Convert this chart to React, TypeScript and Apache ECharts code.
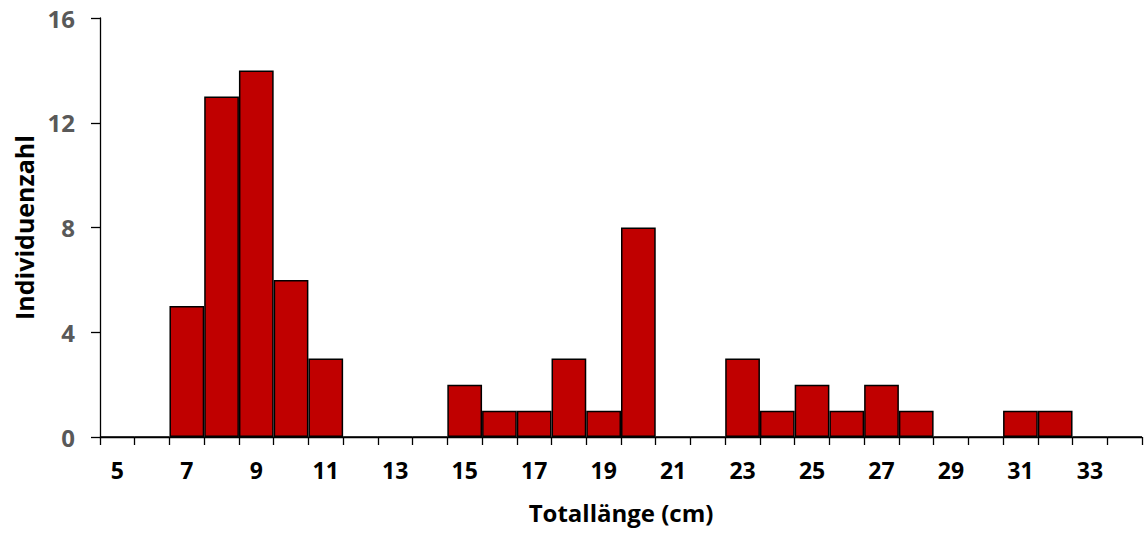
import React, { useEffect, useRef } from "react";
import * as echarts from "echarts";

const categories = ["5","6","7","8","9","10","11","12","13","14","15","16","17","18","19","20","21","22","23","24","25","26","27","28","29","30","31","32","33","34"];
const counts = [0,0,5,13,14,6,3,0,0,0,2,1,1,3,1,8,0,0,3,1,2,1,2,1,0,0,1,1,0,0];
const yTicks = { min: 0, max: 16, interval: 4 };
const xTitle = "Totallänge (cm)";
const yTitle = "Individuenzahl";

export default function App() {
  const ref = useRef<HTMLDivElement>(null);
  useEffect(() => {
    const chart = echarts.init(ref.current!, null, { renderer: "svg" });
    const font = "'Open Sans', sans-serif";
    chart.setOption({
      animation: false,
      grid: { left: 100, right: 4, top: 18, bottom: 98, containLabel: false },
      xAxis: {
        type: "category",
        data: categories,
        name: xTitle,
        nameLocation: "middle",
        nameGap: 63,
        nameTextStyle: { color: "#000", fontSize: 24, fontWeight: "bold", fontFamily: font },
        axisLine: { show: true, lineStyle: { color: "#000", width: 1.3 } },
        axisTick: { show: true, interval: 0, length: 8, lineStyle: { color: "#000", width: 1.3 } },
        axisLabel: { interval: 1, color: "#000", fontSize: 23, fontWeight: "bold", fontFamily: font, margin: 21 },
        splitLine: { show: false },
      },
      yAxis: {
        type: "value",
        min: yTicks.min,
        max: yTicks.max,
        interval: yTicks.interval,
        name: yTitle,
        nameLocation: "middle",
        nameGap: 64,
        nameTextStyle: { color: "#000", fontSize: 25, fontWeight: "bold", fontFamily: font },
        axisLine: { show: true, lineStyle: { color: "#000", width: 1.3 } },
        axisTick: { show: true, length: 9, lineStyle: { color: "#000", width: 1.3 } },
        axisLabel: { color: "#595959", fontSize: 24, fontWeight: "bold", fontFamily: font, margin: 25 },
        splitLine: { show: false },
      },
      series: [
        {
          type: "bar",
          data: counts,
          barCategoryGap: "0%",
          itemStyle: { color: "#C00000", borderColor: "#000", borderWidth: 1.5 },
        },
      ],
    });
    return () => chart.dispose();
  }, []);
  return <div ref={ref} style={{ width: 1146, height: 535, position: "absolute", left: 0, top: 0 }} />;
}
